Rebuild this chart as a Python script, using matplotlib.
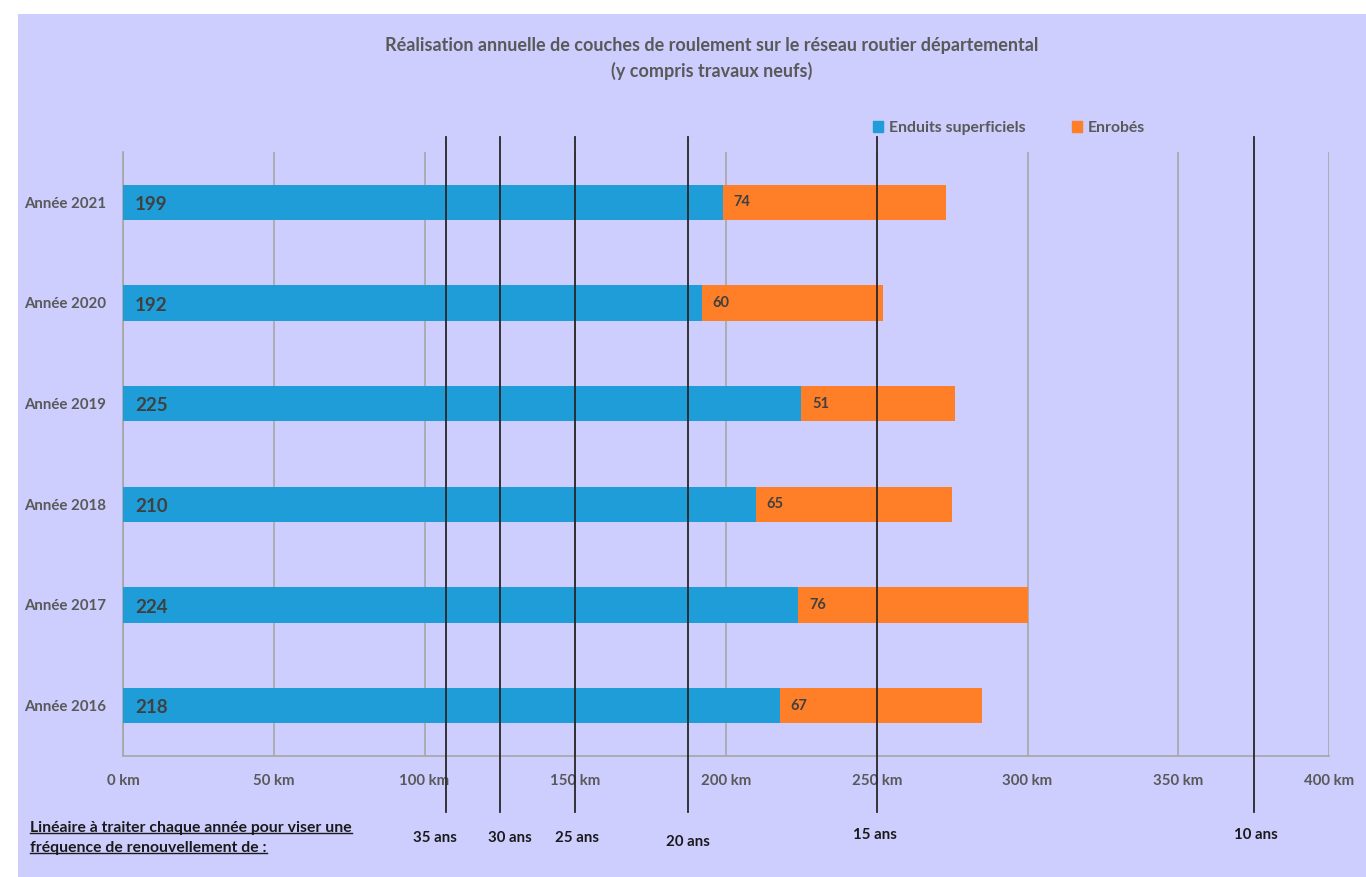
import matplotlib
matplotlib.use("Agg")
import matplotlib.pyplot as plt
from matplotlib.patches import Rectangle
from matplotlib.lines import Line2D
import matplotlib.transforms as mtransforms

# Realised kilometres per year
years = ["Année 2016", "Année 2017", "Année 2018", "Année 2019", "Année 2020", "Année 2021"]
enduits = [218, 224, 210, 225, 192, 199]
enrobes = [67, 76, 65, 51, 60, 74]

# Yearly length needed for a given renewal frequency (network of ~3750 km)
renewal_labels = ["35 ans", "30 ans", "25 ans", "20 ans", "15 ans", "10 ans"]
renewal_km = [107.1, 125.0, 150.0, 187.5, 250.0, 375.0]

xticks = [0, 50, 100, 150, 200, 250, 300, 350, 400]

BLUE = "#1e9dd8"
ORANGE = "#fe7f27"
BG = "#cdcdfe"
GREY = "#595959"
DARK = "#404040"
FONT = "Lato"

fig = plt.figure(figsize=(13.66, 8.77), dpi=100)
fig.patch.set_facecolor("white")
fig.patches.append(Rectangle((18 / 1366, 0), 1 - 18 / 1366, 1 - 14 / 877,
                             transform=fig.transFigure, facecolor=BG,
                             edgecolor="none", zorder=-10))

ax = fig.add_axes([123 / 1366, 1 - 756 / 877, 1206 / 1366, 604 / 877])
ax.set_facecolor("none")

pos = list(range(len(years)))
ax.barh(pos, enduits, height=0.35, color=BLUE, zorder=3)
ax.barh(pos, enrobes, left=enduits, height=0.35, color=ORANGE, zorder=3)

for y, a, b in zip(pos, enduits, enrobes):
    ax.text(4, y - 0.02, str(a), va="center", ha="left", fontsize=13.5,
            fontweight="bold", color=DARK, family=FONT, zorder=5)
    ax.text(a + 3.5, y, str(b), va="center", ha="left", fontsize=10.5,
            fontweight="bold", color=DARK, family=FONT, zorder=5)

ax.set_xlim(0, 400)
ax.set_ylim(-0.5, len(years) - 0.5)
ax.set_xticks(xticks)
ax.set_xticklabels([f"{v} km" for v in xticks], fontsize=10.8,
                   fontweight="bold", color=GREY, family=FONT)
ax.set_yticks(pos)
ax.set_yticklabels(years, fontsize=10.8, fontweight="bold", color=GREY,
                   family=FONT)
ax.tick_params(axis="both", length=0)
ax.tick_params(axis="x", pad=13)
ax.tick_params(axis="y", pad=12)
ax.grid(axis="x", color="#a6a6a6", linewidth=1.2, zorder=1)
for side in ["top", "right"]:
    ax.spines[side].set_visible(False)
ax.spines["left"].set_color("#a6a6a6")
ax.spines["bottom"].set_color("#a6a6a6")
ax.spines["left"].set_linewidth(1.2)
ax.spines["bottom"].set_linewidth(1.2)

# Renewal-frequency markers reaching below the axis
trans = mtransforms.blended_transform_factory(ax.transData, ax.transAxes)
label_dx = [-11, 10, 2, 0, -2, 2]
label_y = [-0.135, -0.135, -0.135, -0.142, -0.131, -0.131]
for km, lab, dx, ly in zip(renewal_km, renewal_labels, label_dx, label_y):
    ax.plot([km, km], [1.025, -0.093], transform=trans, color="#262626",
            linewidth=1.3, clip_on=False, zorder=6)
    ax.text(km + dx / 3.015, ly, lab, transform=trans, ha="center",
            va="center", fontsize=10.8, fontweight="bold", color="#1a1a1a",
            family=FONT)

# Title
fig.text(712 / 1366, 1 - 46 / 877,
         "Réalisation annuelle de couches de roulement sur le réseau routier départemental",
         ha="center", va="center", fontsize=13, fontweight="bold",
         color=GREY, family=FONT)
fig.text(712 / 1366, 1 - 71 / 877, "(y compris travaux neufs)",
         ha="center", va="center", fontsize=13, fontweight="bold",
         color=GREY, family=FONT)

# Legend
handles = [Rectangle((0, 0), 1, 1, color=BLUE), Rectangle((0, 0), 1, 1, color=ORANGE)]
fig.legend(handles, ["Enduits superficiels", "Enrobés"], loc="center",
           bbox_to_anchor=(1009 / 1366, 1 - 128 / 877), ncol=2, frameon=False,
           handlelength=0.65, handleheight=0.65, handletextpad=0.35,
           columnspacing=3.0, prop={"family": FONT, "weight": "bold", "size": 11.3},
           labelcolor=GREY)

# Underlined note at the bottom left
note_lines = ["Linéaire à traiter chaque année pour viser une",
              "fréquence de renouvellement de :"]
note_texts = []
for i, line in enumerate(note_lines):
    note_texts.append(fig.text(30 / 1366, 1 - (828 + 20 * i) / 877, line,
                               ha="left", va="center", fontsize=11.3,
                               fontweight="bold", color="#1a1a1a", family=FONT))

fig.canvas.draw()
renderer = fig.canvas.get_renderer()
inv = fig.transFigure.inverted()
for t in note_texts:
    bb = t.get_window_extent(renderer)
    (x0, y0), (x1, _) = inv.transform([(bb.x0, bb.y0), (bb.x1, bb.y1)])
    fig.add_artist(Line2D([x0, x1], [y0 + 0.002, y0 + 0.002],
                          transform=fig.transFigure, color="#1a1a1a",
                          linewidth=1.0))

fig.savefig("out.png", dpi=100, facecolor=fig.get_facecolor())
